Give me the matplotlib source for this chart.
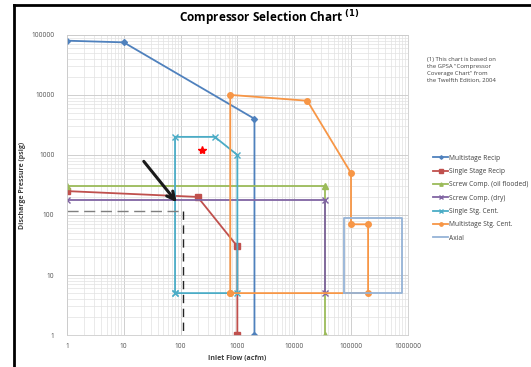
import matplotlib
matplotlib.use("Agg")
from matplotlib import pyplot as plt
from matplotlib.ticker import LogLocator, FuncFormatter, NullFormatter
from matplotlib.lines import Line2D

plt.rcParams['font.family'] = ['Open Sans', 'DejaVu Sans']

# Series data (inlet flow acfm, discharge pressure psig)
multi_recip_x = [1, 10, 2000, 2000]
multi_recip_y = [80000, 75000, 4000, 1]

single_recip_x = [1, 200, 1000, 1000]
single_recip_y = [250, 200, 30, 1]

screw_oil_x = [1, 35000, 35000]
screw_oil_y = [300, 300, 1]

screw_dry_x = [1, 35000, 35000]
screw_dry_y = [175, 175, 5]

single_cent_x = [80, 80, 400, 1000, 1000, 80]
single_cent_y = [5, 2000, 2000, 1000, 5, 5]

multi_cent_x = [750, 750, 17000, 100000, 100000, 200000, 200000, 750]
multi_cent_y = [5, 10000, 8000, 500, 70, 70, 5, 5]

axial_x = [75000, 75000, 800000, 800000, 75000]
axial_y = [5, 88, 88, 5, 5]

star_x, star_y = 240, 1200
arrow_start = (21, 850)
arrow_end = (92, 150)
dash_h_x = [1, 110]
dash_h_y = [118, 118]
dash_v_x = [110, 110]
dash_v_y = [118, 1]

fig = plt.figure(figsize=(5.31, 3.67), dpi=100)
ax = fig.add_axes([0.126, 0.087, 0.642, 0.818])

ax.set_xscale('log')
ax.set_yscale('log')
ax.set_xlim(1, 1000000)
ax.set_ylim(1, 100000)

# Grid
ax.xaxis.set_minor_locator(LogLocator(base=10, subs=range(2, 10), numticks=20))
ax.yaxis.set_minor_locator(LogLocator(base=10, subs=range(2, 10), numticks=20))
ax.xaxis.set_minor_formatter(NullFormatter())
ax.yaxis.set_minor_formatter(NullFormatter())
ax.grid(True, which='major', color='#cfcfcf', lw=0.7)
ax.grid(True, which='minor', color='#e2e2e2', lw=0.5)
ax.set_axisbelow(True)
for s in ax.spines.values():
    s.set_color('#cccccc')
    s.set_linewidth(0.6)

fmt = FuncFormatter(lambda v, p: str(int(round(v))))
ax.xaxis.set_major_formatter(fmt)
ax.yaxis.set_major_formatter(fmt)
ax.tick_params(which='both', length=0, labelsize=4.8, colors='#505050')
ax.tick_params(axis='y', pad=9)
ax.tick_params(axis='x', pad=6)

# Lines
ax.plot(multi_recip_x, multi_recip_y, color='#4F81BD', lw=1.3, marker='D', ms=3,
        label='Multistage Recip')
ax.plot(single_recip_x, single_recip_y, color='#C0504D', lw=1.3, marker='s', ms=4,
        label='Single Stage Recip')
ax.plot(screw_oil_x, screw_oil_y, color='#9BBB59', lw=1.3, marker='^', ms=4,
        label='Screw Comp. (oil flooded)')
ax.plot(screw_dry_x, screw_dry_y, color='#8064A2', lw=1.3, marker='x', ms=4,
        label='Screw Comp. (dry)')
ax.plot(single_cent_x, single_cent_y, color='#4BACC6', lw=1.3, marker='x', ms=4,
        label='Single Stg. Cent.')
ax.plot(multi_cent_x, multi_cent_y, color='#F79646', lw=1.3, marker='o', ms=4,
        label='Multistage Stg. Cent.')
ax.plot(axial_x, axial_y, color='#95B3D7', lw=1.3, label='Axial')

# Annotations
ax.plot([star_x], [star_y], marker='*', color='red', ms=6, ls='none')
ax.plot(dash_h_x, dash_h_y, color='#7f7f7f', lw=1, ls=(0, (8, 4)))
ax.plot(dash_v_x, dash_v_y, color='#222222', lw=1, ls=(0, (6, 4)))
ax.annotate('', xy=arrow_end, xytext=arrow_start,
            arrowprops=dict(arrowstyle='->', color='#1a1a1a', lw=2.2,
                            mutation_scale=14))

ax.set_xlabel('Inlet Flow (acfm)', fontsize=5, fontweight='bold', color='#404040',
              labelpad=3)
ax.set_ylabel('Discharge Pressure (psig)', fontsize=5, fontweight='bold',
              color='#404040', labelpad=4)

fig.text(0.508, 0.953, r'Compressor Selection Chart $^{\mathbf{(1)}}$', ha='center',
         va='center', fontsize=8.5, fontweight='bold')

fig.text(0.804, 0.845, '(1) This chart is based on\nthe GPSA "Compressor\n'
         'Coverage Chart" from\nthe Twelfth Edition, 2004',
         ha='left', va='top', fontsize=4.3, color='#404040', linespacing=1.5)

ax.legend(loc='upper left', bbox_to_anchor=(0.805, 0.595),
          bbox_transform=fig.transFigure, frameon=False, fontsize=4.8,
          handlelength=2.2, handletextpad=0.1, labelspacing=0.95,
          labelcolor='#404040', markerscale=0.6)

# Frame around the whole figure (left and top edges visible)
fig.add_artist(Line2D([0.026, 0.026], [0, 0.987], transform=fig.transFigure,
                      color='black', lw=2))
fig.add_artist(Line2D([0.026, 1], [0.987, 0.987], transform=fig.transFigure,
                      color='black', lw=2))

plt.savefig('out.png', dpi=100)
